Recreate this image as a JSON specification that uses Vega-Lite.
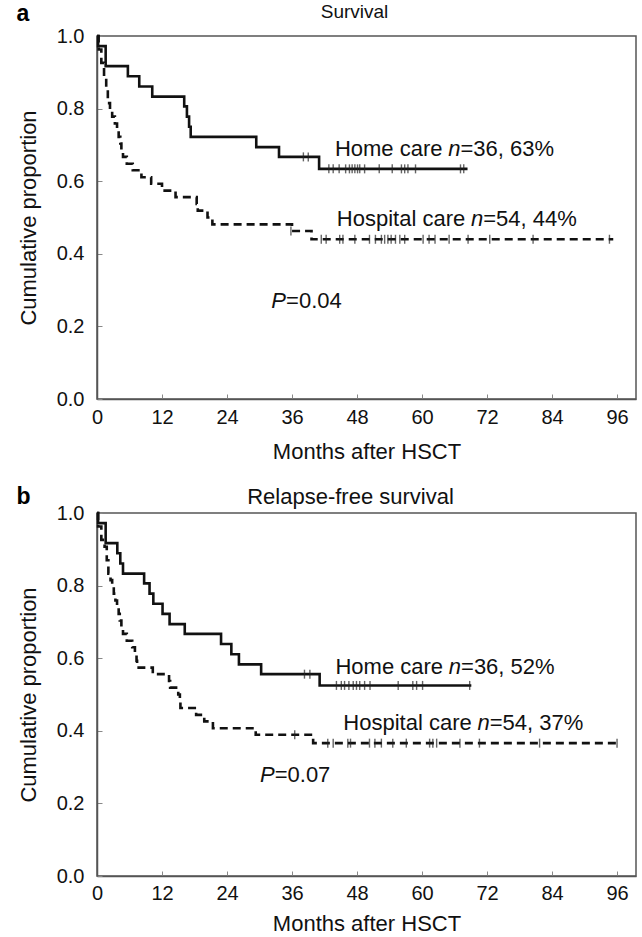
{
  "$schema": "https://vega.github.io/schema/vega-lite/v6.json",
  "padding": {"left": 16, "top": 2, "right": 2, "bottom": 0},
  "background": "white",
  "config": {
    "font": "Liberation Sans",
    "view": {"stroke": "#555", "strokeWidth": 1.5},
    "axis": {
      "grid": false,
      "domainColor": "#555",
      "domainWidth": 1.5,
      "tickColor": "#888",
      "tickWidth": 1,
      "tickSize": -5,
      "labelFont": "Liberation Sans",
      "labelFontSize": 20,
      "labelColor": "#111",
      "labelFlush": false,
      "labelOverlap": false,
      "titleFont": "Liberation Sans",
      "titleFontSize": 22,
      "titleFontWeight": "normal",
      "titleColor": "#111"
    },
    "title": {"font": "Liberation Sans", "color": "#111", "fontWeight": "normal"}
  },
  "datasets": {
    "curves": [
      {"panel": "a", "group": "Home care", "month": 0, "value": 1.0},
      {"panel": "a", "group": "Home care", "month": 0.2, "value": 0.972},
      {"panel": "a", "group": "Home care", "month": 1.6, "value": 0.917},
      {"panel": "a", "group": "Home care", "month": 5.7, "value": 0.889},
      {"panel": "a", "group": "Home care", "month": 7.8, "value": 0.861},
      {"panel": "a", "group": "Home care", "month": 10.2, "value": 0.833},
      {"panel": "a", "group": "Home care", "month": 16.1, "value": 0.806},
      {"panel": "a", "group": "Home care", "month": 16.6, "value": 0.778},
      {"panel": "a", "group": "Home care", "month": 17.0, "value": 0.75},
      {"panel": "a", "group": "Home care", "month": 17.3, "value": 0.722},
      {"panel": "a", "group": "Home care", "month": 29.4, "value": 0.694},
      {"panel": "a", "group": "Home care", "month": 33.6, "value": 0.667},
      {"panel": "a", "group": "Home care", "month": 41.0, "value": 0.634},
      {"panel": "a", "group": "Home care", "month": 68.4, "value": 0.634},
      {"panel": "a", "group": "Hospital care", "month": 0, "value": 1.0},
      {"panel": "a", "group": "Hospital care", "month": 0.3, "value": 0.963},
      {"panel": "a", "group": "Hospital care", "month": 0.8, "value": 0.926},
      {"panel": "a", "group": "Hospital care", "month": 1.3, "value": 0.889},
      {"panel": "a", "group": "Hospital care", "month": 1.7, "value": 0.852},
      {"panel": "a", "group": "Hospital care", "month": 2.0, "value": 0.815},
      {"panel": "a", "group": "Hospital care", "month": 2.4, "value": 0.796},
      {"panel": "a", "group": "Hospital care", "month": 2.8, "value": 0.778},
      {"panel": "a", "group": "Hospital care", "month": 3.3, "value": 0.759},
      {"panel": "a", "group": "Hospital care", "month": 3.7, "value": 0.741},
      {"panel": "a", "group": "Hospital care", "month": 4.0, "value": 0.722},
      {"panel": "a", "group": "Hospital care", "month": 4.3, "value": 0.704},
      {"panel": "a", "group": "Hospital care", "month": 4.5, "value": 0.685},
      {"panel": "a", "group": "Hospital care", "month": 4.8, "value": 0.667},
      {"panel": "a", "group": "Hospital care", "month": 5.5, "value": 0.648},
      {"panel": "a", "group": "Hospital care", "month": 6.6, "value": 0.63},
      {"panel": "a", "group": "Hospital care", "month": 8.2, "value": 0.611},
      {"panel": "a", "group": "Hospital care", "month": 10.0, "value": 0.593},
      {"panel": "a", "group": "Hospital care", "month": 12.0, "value": 0.574},
      {"panel": "a", "group": "Hospital care", "month": 14.5, "value": 0.556},
      {"panel": "a", "group": "Hospital care", "month": 18.4, "value": 0.537},
      {"panel": "a", "group": "Hospital care", "month": 18.6, "value": 0.519},
      {"panel": "a", "group": "Hospital care", "month": 20.4, "value": 0.5},
      {"panel": "a", "group": "Hospital care", "month": 21.3, "value": 0.481},
      {"panel": "a", "group": "Hospital care", "month": 36.0, "value": 0.463},
      {"panel": "a", "group": "Hospital care", "month": 39.6, "value": 0.44},
      {"panel": "a", "group": "Hospital care", "month": 95.3, "value": 0.44},
      {"panel": "b", "group": "Home care", "month": 0, "value": 1.0},
      {"panel": "b", "group": "Home care", "month": 0.2, "value": 0.972},
      {"panel": "b", "group": "Home care", "month": 1.6, "value": 0.917},
      {"panel": "b", "group": "Home care", "month": 3.75, "value": 0.889},
      {"panel": "b", "group": "Home care", "month": 4.3, "value": 0.861},
      {"panel": "b", "group": "Home care", "month": 4.8, "value": 0.833},
      {"panel": "b", "group": "Home care", "month": 8.7, "value": 0.806},
      {"panel": "b", "group": "Home care", "month": 9.7, "value": 0.778},
      {"panel": "b", "group": "Home care", "month": 10.4, "value": 0.75},
      {"panel": "b", "group": "Home care", "month": 12.1, "value": 0.722},
      {"panel": "b", "group": "Home care", "month": 13.4, "value": 0.694},
      {"panel": "b", "group": "Home care", "month": 16.2, "value": 0.667},
      {"panel": "b", "group": "Home care", "month": 22.9, "value": 0.639},
      {"panel": "b", "group": "Home care", "month": 24.8, "value": 0.611},
      {"panel": "b", "group": "Home care", "month": 26.2, "value": 0.583},
      {"panel": "b", "group": "Home care", "month": 30.3, "value": 0.556},
      {"panel": "b", "group": "Home care", "month": 41.1, "value": 0.525},
      {"panel": "b", "group": "Home care", "month": 69.1, "value": 0.525},
      {"panel": "b", "group": "Hospital care", "month": 0, "value": 1.0},
      {"panel": "b", "group": "Hospital care", "month": 0.2, "value": 0.963},
      {"panel": "b", "group": "Hospital care", "month": 0.8, "value": 0.926},
      {"panel": "b", "group": "Hospital care", "month": 1.4, "value": 0.907},
      {"panel": "b", "group": "Hospital care", "month": 1.8, "value": 0.87},
      {"panel": "b", "group": "Hospital care", "month": 2.1, "value": 0.833},
      {"panel": "b", "group": "Hospital care", "month": 2.5, "value": 0.815},
      {"panel": "b", "group": "Hospital care", "month": 2.8, "value": 0.796},
      {"panel": "b", "group": "Hospital care", "month": 3.1, "value": 0.778},
      {"panel": "b", "group": "Hospital care", "month": 3.4, "value": 0.759},
      {"panel": "b", "group": "Hospital care", "month": 3.7, "value": 0.741},
      {"panel": "b", "group": "Hospital care", "month": 4.0, "value": 0.722},
      {"panel": "b", "group": "Hospital care", "month": 4.2, "value": 0.704},
      {"panel": "b", "group": "Hospital care", "month": 4.5, "value": 0.685},
      {"panel": "b", "group": "Hospital care", "month": 4.8, "value": 0.667},
      {"panel": "b", "group": "Hospital care", "month": 5.5, "value": 0.648},
      {"panel": "b", "group": "Hospital care", "month": 6.5, "value": 0.63},
      {"panel": "b", "group": "Hospital care", "month": 7.0, "value": 0.611},
      {"panel": "b", "group": "Hospital care", "month": 7.3, "value": 0.593},
      {"panel": "b", "group": "Hospital care", "month": 7.4, "value": 0.574},
      {"panel": "b", "group": "Hospital care", "month": 10.3, "value": 0.556},
      {"panel": "b", "group": "Hospital care", "month": 13.3, "value": 0.537},
      {"panel": "b", "group": "Hospital care", "month": 13.5, "value": 0.519},
      {"panel": "b", "group": "Hospital care", "month": 15.0, "value": 0.5},
      {"panel": "b", "group": "Hospital care", "month": 15.3, "value": 0.481},
      {"panel": "b", "group": "Hospital care", "month": 15.4, "value": 0.463},
      {"panel": "b", "group": "Hospital care", "month": 18.3, "value": 0.444},
      {"panel": "b", "group": "Hospital care", "month": 19.8, "value": 0.426},
      {"panel": "b", "group": "Hospital care", "month": 21.4, "value": 0.407},
      {"panel": "b", "group": "Hospital care", "month": 29.3, "value": 0.389},
      {"panel": "b", "group": "Hospital care", "month": 39.9, "value": 0.366},
      {"panel": "b", "group": "Hospital care", "month": 96.0, "value": 0.366}
    ],
    "censor": [
      {"panel": "a", "month": 38.1, "value": 0.667}, {"panel": "a", "month": 39.0, "value": 0.667},
      {"panel": "a", "month": 42.8, "value": 0.634}, {"panel": "a", "month": 43.6, "value": 0.634},
      {"panel": "a", "month": 44.7, "value": 0.634}, {"panel": "a", "month": 45.9, "value": 0.634},
      {"panel": "a", "month": 46.6, "value": 0.634}, {"panel": "a", "month": 47.1, "value": 0.634},
      {"panel": "a", "month": 47.6, "value": 0.634}, {"panel": "a", "month": 48.1, "value": 0.634},
      {"panel": "a", "month": 48.5, "value": 0.634}, {"panel": "a", "month": 49.4, "value": 0.634},
      {"panel": "a", "month": 52.1, "value": 0.634}, {"panel": "a", "month": 54.5, "value": 0.634},
      {"panel": "a", "month": 56.2, "value": 0.634}, {"panel": "a", "month": 56.8, "value": 0.634},
      {"panel": "a", "month": 57.4, "value": 0.634}, {"panel": "a", "month": 58.8, "value": 0.634},
      {"panel": "a", "month": 67.1, "value": 0.634}, {"panel": "a", "month": 67.7, "value": 0.634},
      {"panel": "a", "month": 35.8, "value": 0.463},
      {"panel": "a", "month": 41.4, "value": 0.44}, {"panel": "a", "month": 42.3, "value": 0.44},
      {"panel": "a", "month": 44.8, "value": 0.44}, {"panel": "a", "month": 45.4, "value": 0.44},
      {"panel": "a", "month": 47.6, "value": 0.44}, {"panel": "a", "month": 50.3, "value": 0.44},
      {"panel": "a", "month": 51.4, "value": 0.44}, {"panel": "a", "month": 52.5, "value": 0.44},
      {"panel": "a", "month": 53.1, "value": 0.44}, {"panel": "a", "month": 53.7, "value": 0.44},
      {"panel": "a", "month": 54.3, "value": 0.44}, {"panel": "a", "month": 55.1, "value": 0.44},
      {"panel": "a", "month": 55.9, "value": 0.44}, {"panel": "a", "month": 56.8, "value": 0.44},
      {"panel": "a", "month": 60.2, "value": 0.44}, {"panel": "a", "month": 61.3, "value": 0.44},
      {"panel": "a", "month": 62.4, "value": 0.44}, {"panel": "a", "month": 65.0, "value": 0.44},
      {"panel": "a", "month": 68.5, "value": 0.44}, {"panel": "a", "month": 72.5, "value": 0.44},
      {"panel": "a", "month": 80.5, "value": 0.44}, {"panel": "a", "month": 94.6, "value": 0.44},
      {"panel": "b", "month": 38.3, "value": 0.556}, {"panel": "b", "month": 39.3, "value": 0.556},
      {"panel": "b", "month": 44.2, "value": 0.525}, {"panel": "b", "month": 45.1, "value": 0.525},
      {"panel": "b", "month": 45.7, "value": 0.525}, {"panel": "b", "month": 46.5, "value": 0.525},
      {"panel": "b", "month": 47.3, "value": 0.525}, {"panel": "b", "month": 47.9, "value": 0.525},
      {"panel": "b", "month": 48.5, "value": 0.525}, {"panel": "b", "month": 49.4, "value": 0.525},
      {"panel": "b", "month": 50.4, "value": 0.525}, {"panel": "b", "month": 55.6, "value": 0.525},
      {"panel": "b", "month": 58.3, "value": 0.525}, {"panel": "b", "month": 59.0, "value": 0.525},
      {"panel": "b", "month": 60.1, "value": 0.525}, {"panel": "b", "month": 68.8, "value": 0.525},
      {"panel": "b", "month": 36.5, "value": 0.389},
      {"panel": "b", "month": 42.6, "value": 0.366}, {"panel": "b", "month": 43.6, "value": 0.366},
      {"panel": "b", "month": 46.3, "value": 0.366}, {"panel": "b", "month": 46.8, "value": 0.366},
      {"panel": "b", "month": 50.3, "value": 0.366}, {"panel": "b", "month": 51.3, "value": 0.366},
      {"panel": "b", "month": 52.5, "value": 0.366}, {"panel": "b", "month": 54.6, "value": 0.366},
      {"panel": "b", "month": 57.1, "value": 0.366}, {"panel": "b", "month": 61.4, "value": 0.366},
      {"panel": "b", "month": 62.0, "value": 0.366}, {"panel": "b", "month": 62.7, "value": 0.366},
      {"panel": "b", "month": 67.0, "value": 0.366}, {"panel": "b", "month": 70.6, "value": 0.366},
      {"panel": "b", "month": 81.7, "value": 0.366}, {"panel": "b", "month": 96.0, "value": 0.366}
    ],
    "ann": [
      {"panel": "a", "pre": "Home care", "it": "n", "post": "=36, 63%", "month": 67.1, "value": 0.689},
      {"panel": "a", "pre": "Hospital care", "it": "n", "post": "=54, 44%", "month": 71.3, "value": 0.496},
      {"panel": "a", "pre": "", "it": "P", "post": "=0.04", "month": 34.9, "value": 0.271},
      {"panel": "b", "pre": "Home care", "it": "n", "post": "=36, 52%", "month": 67.2, "value": 0.577},
      {"panel": "b", "pre": "Hospital care", "it": "n", "post": "=54, 37%", "month": 72.5, "value": 0.421},
      {"panel": "b", "pre": "", "it": "P", "post": "=0.07", "month": 32.8, "value": 0.279}
    ]
  },
  "spacing": 22,
  "vconcat": [
    {
      "title": {"text": "a", "anchor": "start", "frame": "bounds", "fontSize": 23, "fontWeight": "bold", "color": "#000", "offset": -24},
      "vconcat": [
        {
          "width": 539,
          "height": 363,
          "title": {"text": "Survival", "fontSize": 19, "offset": 4, "dx": -12},
          "encoding": {
            "x": {"field": "month", "type": "quantitative", "scale": {"domain": [0, 99.5], "nice": false},
                  "axis": {"values": [0, 12, 24, 36, 48, 60, 72, 84, 96], "title": "Months after HSCT", "labelPadding": 13, "titlePadding": 14}},
            "y": {"field": "value", "type": "quantitative", "scale": {"domain": [0, 1], "nice": false},
                  "axis": {"values": [0, 0.2, 0.4, 0.6, 0.8, 1.0], "format": ".1f", "title": "Cumulative proportion", "labelPadding": 18, "titlePadding": 16}}
          },
          "layer": [
            {
              "data": {"name": "curves"},
              "transform": [{"filter": "datum.panel === 'a'"}],
              "mark": {"type": "line", "interpolate": "step-after", "color": "#111", "strokeWidth": 2.6},
              "encoding": {
                "detail": {"field": "group"},
                "strokeDash": {"field": "group", "type": "nominal", "scale": {"domain": ["Home care", "Hospital care"], "range": [[1, 0], [8, 5]]}, "legend": null}
              }
            },
            {
              "data": {"name": "censor"},
              "transform": [{"filter": "datum.panel === 'a'"}],
              "mark": {"type": "tick", "orient": "vertical", "color": "#222", "size": 9, "thickness": 1.4}
            },
            {
              "data": {"name": "ann"},
              "transform": [{"filter": "datum.panel === 'a' && datum.pre !== ''"}],
              "mark": {"type": "text", "align": "right", "baseline": "middle", "fontSize": 22, "dx": -18, "color": "#111"},
              "encoding": {"text": {"field": "pre"}}
            },
            {
              "data": {"name": "ann"},
              "transform": [{"filter": "datum.panel === 'a'"}],
              "mark": {"type": "text", "align": "right", "baseline": "middle", "fontSize": 22, "fontStyle": "italic", "color": "#111"},
              "encoding": {"text": {"field": "it"}}
            },
            {
              "data": {"name": "ann"},
              "transform": [{"filter": "datum.panel === 'a'"}],
              "mark": {"type": "text", "align": "left", "baseline": "middle", "fontSize": 22, "color": "#111"},
              "encoding": {"text": {"field": "post"}}
            }
          ]
        }
      ]
    },
    {
      "title": {"text": "b", "anchor": "start", "frame": "bounds", "fontSize": 23, "fontWeight": "bold", "color": "#000", "offset": -24},
      "vconcat": [
        {
          "width": 539,
          "height": 363,
          "title": {"text": "Relapse-free survival", "fontSize": 22, "offset": -6, "dx": -16},
          "encoding": {
            "x": {"field": "month", "type": "quantitative", "scale": {"domain": [0, 99.5], "nice": false},
                  "axis": {"values": [0, 12, 24, 36, 48, 60, 72, 84, 96], "title": "Months after HSCT", "labelPadding": 12, "titlePadding": 10}},
            "y": {"field": "value", "type": "quantitative", "scale": {"domain": [0, 1], "nice": false},
                  "axis": {"values": [0, 0.2, 0.4, 0.6, 0.8, 1.0], "format": ".1f", "title": "Cumulative proportion", "labelPadding": 18, "titlePadding": 16}}
          },
          "layer": [
            {
              "data": {"name": "curves"},
              "transform": [{"filter": "datum.panel === 'b'"}],
              "mark": {"type": "line", "interpolate": "step-after", "color": "#111", "strokeWidth": 2.6},
              "encoding": {
                "detail": {"field": "group"},
                "strokeDash": {"field": "group", "type": "nominal", "scale": {"domain": ["Home care", "Hospital care"], "range": [[1, 0], [8, 5]]}, "legend": null}
              }
            },
            {
              "data": {"name": "censor"},
              "transform": [{"filter": "datum.panel === 'b'"}],
              "mark": {"type": "tick", "orient": "vertical", "color": "#222", "size": 9, "thickness": 1.4}
            },
            {
              "data": {"name": "ann"},
              "transform": [{"filter": "datum.panel === 'b' && datum.pre !== ''"}],
              "mark": {"type": "text", "align": "right", "baseline": "middle", "fontSize": 22, "dx": -18, "color": "#111"},
              "encoding": {"text": {"field": "pre"}}
            },
            {
              "data": {"name": "ann"},
              "transform": [{"filter": "datum.panel === 'b'"}],
              "mark": {"type": "text", "align": "right", "baseline": "middle", "fontSize": 22, "fontStyle": "italic", "color": "#111"},
              "encoding": {"text": {"field": "it"}}
            },
            {
              "data": {"name": "ann"},
              "transform": [{"filter": "datum.panel === 'b'"}],
              "mark": {"type": "text", "align": "left", "baseline": "middle", "fontSize": 22, "color": "#111"},
              "encoding": {"text": {"field": "post"}}
            }
          ]
        }
      ]
    }
  ]
}
